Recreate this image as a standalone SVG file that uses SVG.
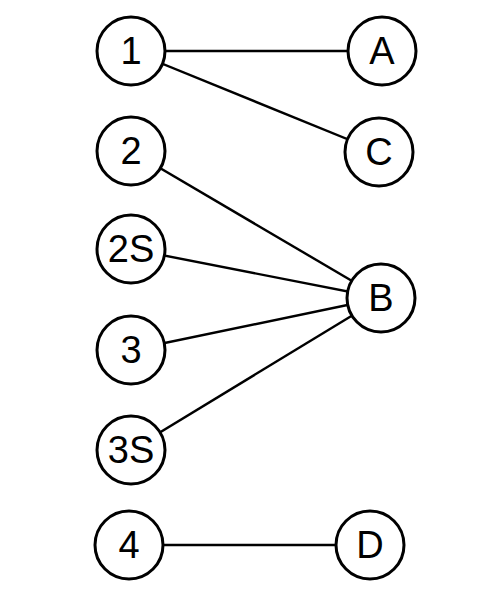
<svg xmlns="http://www.w3.org/2000/svg" width="500" height="600" viewBox="0 0 500 600">
<style>
.edge{stroke:#000;stroke-width:2.4;fill:none}
.node circle{fill:#fff;stroke:#000;stroke-width:3}
.node text{font-family:"Liberation Sans",Arial,sans-serif;font-size:38px;fill:#000;text-anchor:middle}
</style>
<rect width="500" height="600" fill="#fff"/>
<g id="connectors">
<line class="edge" x1="131" y1="51" x2="382" y2="51"/>
<line class="edge" x1="131" y1="51" x2="379" y2="152"/>
<line class="edge" x1="131" y1="151" x2="381" y2="298"/>
<line class="edge" x1="131" y1="249" x2="381" y2="298"/>
<line class="edge" x1="131" y1="350" x2="381" y2="298"/>
<line class="edge" x1="131" y1="450" x2="381" y2="298"/>
<line class="edge" x1="129" y1="545" x2="370" y2="545"/>
</g>
<g id="n1" class="node"><circle cx="131" cy="51" r="34"/><text x="131" y="64">1</text></g>
<g id="n2" class="node"><circle cx="131" cy="151" r="34"/><text x="131" y="164">2</text></g>
<g id="n2S" class="node"><circle cx="131" cy="249" r="34"/><text x="131" y="262">2S</text></g>
<g id="n3" class="node"><circle cx="131" cy="350" r="34"/><text x="131" y="363">3</text></g>
<g id="n3S" class="node"><circle cx="131" cy="450" r="34"/><text x="131" y="463">3S</text></g>
<g id="n4" class="node"><circle cx="129" cy="545" r="34"/><text x="129" y="558">4</text></g>
<g id="nA" class="node"><circle cx="382" cy="51" r="34"/><text x="382" y="64">A</text></g>
<g id="nC" class="node"><circle cx="379" cy="152" r="34"/><text x="379" y="165">C</text></g>
<g id="nB" class="node"><circle cx="381" cy="298" r="34"/><text x="381" y="311">B</text></g>
<g id="nD" class="node"><circle cx="370" cy="545" r="34"/><text x="370" y="558">D</text></g>
</svg>
